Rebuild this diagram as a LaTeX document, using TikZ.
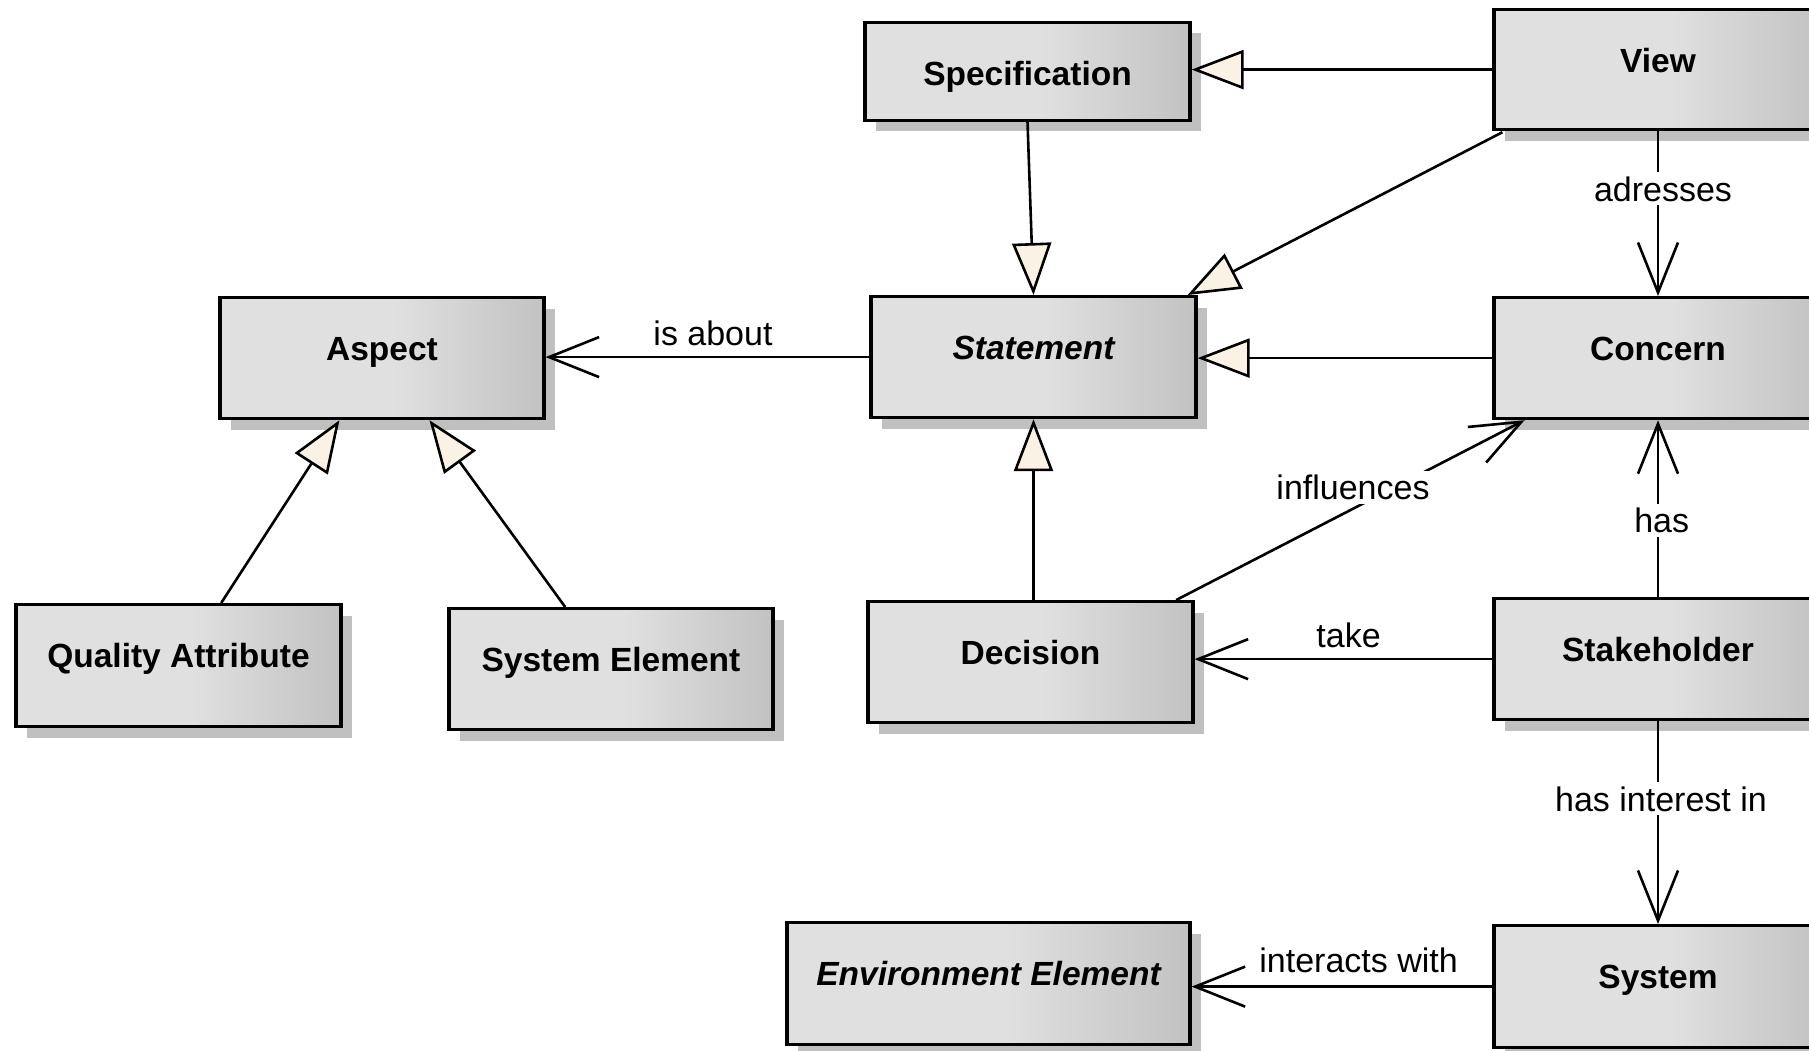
\documentclass[tikz,border=0pt]{standalone}
\usepackage{fontspec}
\setmainfont{Liberation Sans}
\usetikzlibrary{arrows.meta,shadows,calc}

\definecolor{boxlight}{RGB}{224,224,224}
\definecolor{boxdark}{RGB}{194,194,194}
\definecolor{shadowgray}{RGB}{192,192,192}
\definecolor{cream}{RGB}{250,242,228}

% light grey that darkens towards the right edge of a class box
\pgfdeclarehorizontalshading{boxshade}{100bp}{color(0bp)=(boxlight); color(25bp)=(boxlight); color(52bp)=(boxlight); color(75bp)=(boxdark); color(100bp)=(boxdark)}

\begin{document}
\begin{tikzpicture}[x=1pt,y=-1pt,
  cls/.style={draw=black, line width=3.2pt, shading=boxshade, inner sep=0pt,
    anchor=north, align=center, text height=63pt, text depth=58pt,
    font=\fontsize{33.5}{40}\selectfont\bfseries,
    drop shadow={shadow xshift=11pt, shadow yshift=-11pt, fill=shadowgray, opacity=1}},
  abstract/.style={font=\fontsize{33.5}{40}\selectfont\bfseries\itshape},
  gen/.style={draw=black, line width=2.6pt,
    -{Triangle[length=52pt, width=39pt, fill=cream]}},
  assoc/.style={draw=black, line width=2.6pt,
    -{Straight Barb[length=50pt, width=40pt]}},
  lbl/.style={anchor=base, inner sep=4pt, font=\fontsize{34}{40}\selectfont},
  lblgap/.style={lbl, fill=white}]

\useasboundingbox (0,0) rectangle (1809,1051);
\clip (0,0) rectangle (1809,1051);

% classes
\node[cls, minimum width=325pt, text depth=35pt] (spec) at (1027.5,20.7) {Specification};
\node[cls, minimum width=328pt, text depth=57pt] (view) at (1658,8) {View};
\node[cls, abstract, minimum width=325pt] (stmt) at (1033.5,295) {Statement};
\node[cls, minimum width=328pt] (concern) at (1658,296) {Concern};
\node[cls, minimum width=324pt] (aspect) at (382,296) {Aspect};
\node[cls, minimum width=325pt, text depth=59pt] (qa) at (178.5,603) {Quality Attribute};
\node[cls, minimum width=324pt] (se) at (611,607) {System Element};
\node[cls, minimum width=325pt] (dec) at (1030.5,600) {Decision};
\node[cls, minimum width=328pt] (stake) at (1658,597) {Stakeholder};
\node[cls, abstract, minimum width=403pt, text depth=59pt] (env) at (988.5,921) {Environment Element};
\node[cls, minimum width=328pt, text depth=59pt] (sys) at (1658,924) {System};

% generalizations
\draw[gen] (view.west) -- (view.west -| spec.east);
\draw[gen] (spec.south) -- (stmt.north);
\draw[gen] ($(view.south west)+(10,1)$) -- ($(stmt.north east)+(-10,0)$);
\draw[gen] (concern.west) -- (concern.west -| stmt.east);
\draw[gen] (stmt.south |- dec.north) -- (stmt.south);
\draw[gen] ($(qa.north west)!0.63!(qa.north east)$) -- ($(aspect.south west)!0.37!(aspect.south east)$);
\draw[gen] ($(se.north west)!0.36!(se.north east)$) -- ($(aspect.south west)!0.645!(aspect.south east)$);

% associations
\draw[assoc] (stmt.west) -- (stmt.west -| aspect.east);
\draw[assoc] (view.south) -- (concern.north);
\draw[assoc] ($(dec.north west)!0.944!(dec.north east)$) -- ($(concern.south west)!0.097!(concern.south east)$);
\draw[assoc] (stake.north) -- (concern.south);
\draw[assoc] (stake.west) -- (stake.west -| dec.east);
\draw[assoc] (stake.south) -- (sys.north);
\draw[assoc] (sys.west) -- (sys.west -| env.east);

% association names
\node[lbl] (lisabout) at (713,345) {is about};
\node[lblgap] (ladresses) at (1663,201) {adresses};
\node[lblgap] (linfluences) at (1353,499.6) {influences};
\node[lblgap] (lhas) at (1661.7,532.8) {has};
\node[lbl] (ltake) at (1348.6,647) {take};
\node[lblgap] (linterest) at (1661,811) {has interest in};
\node[lbl] (linteracts) at (1358.6,972) {interacts with};
\end{tikzpicture}
\end{document}
